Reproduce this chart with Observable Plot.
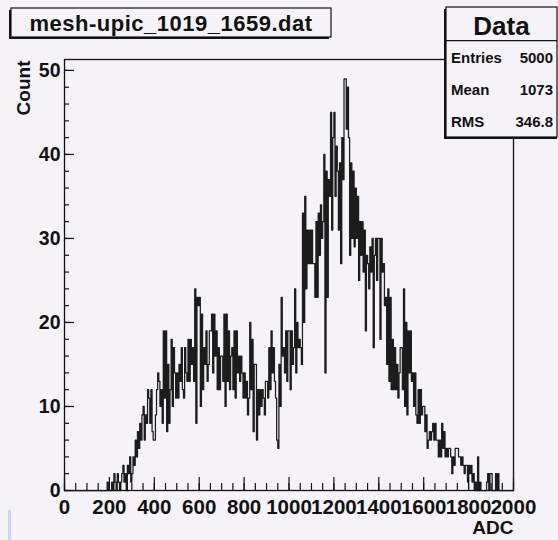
<!DOCTYPE html>
<html><head><meta charset="utf-8">
<script src="https://cdn.jsdelivr.net/npm/d3@7"></script>
<script src="https://cdn.jsdelivr.net/npm/@observablehq/plot@0.6"></script>
<style>
html,body{margin:0;padding:0;background:#f5f3f8;}
#wrap{position:relative;width:558px;height:540px;overflow:hidden;font-family:"Liberation Sans",Arial,sans-serif;}
#wrap svg{display:block;}
#overlay{position:absolute;left:0;top:0;pointer-events:none;}
</style></head><body><div id="wrap"></div>
<script>
// ---- chart text ----
const histTitle = "mesh-upic_1019_1659.dat";
const xLabel = "ADC";
const yLabel = "Count";
const statsTitle = "Data";
const statNames = ["Entries", "Mean", "RMS"];
const statValues = ["5000", "1073", "346.8"];

// ---- axes ----
const xDomain = [0, 2000];
const yDomain = [0, 51.3];
const xTicks = [0, 200, 400, 600, 800, 1000, 1200, 1400, 1600, 1800, 2000];
const xMinorTicks = d3.range(0, 2001, 50);
const yTicks = [0, 10, 20, 30, 40, 50];
const yMinorTicks = d3.range(0, 51, 2);

// ---- histogram: 400 bins of 5 ADC from 0 to 2000 ----
const binWidth = 5;
const counts0to175 = new Array(35).fill(0);
const counts175to1000 = [
  0,0,0,1,0,
  0,0,1,0,2,1,0,2,1,0,
  1,2,3,1,2,0,3,2,4,1,
  2,4,3,6,4,7,5,8,6,9,
  10,6,9,8,12,11,8,12,7,6,
  6,9,12,14,13,10,12,8,19,11,
  19,7,15,8,12,18,10,17,14,11,
  14,11,15,13,17,12,11,17,14,13,
  18,13,18,15,17,13,24,8,23,22,
  23,10,21,12,17,15,19,13,15,19,
  19,21,14,21,16,19,12,17,12,16,
  16,13,21,10,21,13,19,12,16,17,
  12,19,11,19,14,16,13,16,14,11,
  14,11,13,9,11,20,12,18,7,15,
  15,6,12,9,12,10,12,11,9,13,
  13,11,17,12,19,14,17,13,11,6,
  5,15,10,23,16,17,14,19,13,19
];
const counts1000to1500 = [
  19,12,19,15,17,24,14,20,17,18,
  17,15,33,20,35,24,31,27,31,27,
  31,27,27,23,32,23,33,28,34,30,
  32,40,14,38,23,37,35,45,31,42,
  45,35,41,38,31,39,27,42,37,49,
  49,43,48,42,28,39,30,38,29,36,
  30,35,25,32,28,32,26,31,19,28,
  27,24,29,26,30,17,28,30,25,30,
  30,18,30,26,27,22,23,15,24,13,
  23,12,18,12,17,12,15,11,14,17
];
const counts1500to2000 = [
  17,12,24,10,20,9,19,14,19,13,
  14,10,14,9,8,12,8,12,9,10,
  10,7,9,5,6,7,6,7,8,6,
  8,6,6,4,6,4,8,5,7,4,
  5,4,5,5,4,2,4,3,5,5,
  5,4,4,3,4,3,2,3,3,1,
  3,2,3,1,2,0,1,0,4,0,
  1,0,0,0,0,0,1,2,0,2,
  2,0,0,0,2,0,2,0,0,0,
  0,0,0,0,0,0,0,0,0,0
];
const counts = [...counts0to175, ...counts175to1000, ...counts1000to1500, ...counts1500to2000];

const hist = counts.map((c, i) => ({x: i * binWidth, y: c}));
hist.push({x: counts.length * binWidth, y: counts[counts.length - 1]});

// ---- layout ----
const W = 558, H = 540;
const mL = 64, mR = 45, mT = 59, mB = 50;
const frameW = W - mL - mR, frameH = H - mT - mB;
const bg = "#f5f3f8";
const ink = "#111";
const font = "Liberation Sans, Arial, sans-serif";

const chart = Plot.plot({
  width: W, height: H,
  marginLeft: mL, marginRight: mR, marginTop: mT, marginBottom: mB,
  x: {domain: xDomain},
  y: {domain: yDomain},
  style: {background: bg, fontFamily: font, fontWeight: "bold", fontSize: "19px", color: ink, overflow: "visible"},
  marks: [
    Plot.line(hist, {x: "x", y: "y", curve: "step-after", stroke: "#1c1c1c", strokeWidth: 1.25}),
    Plot.tickX(xMinorTicks, {x: d => d, insetTop: frameH - 7, stroke: ink, strokeWidth: 1.2}),
    Plot.tickX(xTicks, {x: d => d, insetTop: frameH - 13, stroke: ink, strokeWidth: 1.2}),
    Plot.tickY(yMinorTicks, {y: d => d, insetRight: frameW - 5, stroke: ink, strokeWidth: 1.2}),
    Plot.tickY(yTicks, {y: d => d, insetRight: frameW - 10, stroke: ink, strokeWidth: 1.2}),
    Plot.axisX(xTicks, {tickSize: 0, tickPadding: 9, fontSize: 20.5, fontWeight: "bold", label: null, tickFormat: d => String(d)}),
    Plot.axisY(yTicks, {tickSize: 0, tickPadding: 4, fontSize: 19.5, fontWeight: "bold", label: null, tickFormat: d => String(d)}),
    Plot.frame({stroke: ink, strokeWidth: 1.3}),
    Plot.text([yLabel], {frameAnchor: "top-left", dx: -41, dy: 1, rotate: -90, textAnchor: "end", lineAnchor: "middle", fontSize: 19, fontWeight: "bold", fill: ink}),
    Plot.text([xLabel], {frameAnchor: "bottom-right", dy: 37, textAnchor: "end", lineAnchor: "middle", fontSize: 19, fontWeight: "bold", fill: ink})
  ]
});
const wrap = document.getElementById("wrap");
wrap.appendChild(chart);

// ---- overlay: title pave and stats box ----
const ov = d3.select(wrap).append("svg").attr("id", "overlay")
  .attr("width", W).attr("height", H)
  .style("font-family", font).style("font-weight", "bold").style("fill", ink);

// small scan artifact at lower left
ov.append("rect").attr("x", 8).attr("y", 510).attr("width", 3).attr("height", 30).attr("fill", "#c9d5ea");

// title box
ov.append("rect").attr("x", 9).attr("y", 10).attr("width", 320).attr("height", 29).attr("fill", ink);
ov.append("rect").attr("x", 11).attr("y", 8).attr("width", 320).attr("height", 29)
  .attr("fill", bg).attr("stroke", ink).attr("stroke-width", 1.2);
ov.append("text").attr("x", 171).attr("y", 31).attr("text-anchor", "middle")
  .attr("font-size", 22).attr("letter-spacing", 0.5).text(histTitle);

// stats box
ov.append("rect").attr("x", 444).attr("y", 9).attr("width", 113).attr("height", 130).attr("fill", ink);
ov.append("rect").attr("x", 446).attr("y", 7).attr("width", 111).attr("height", 130)
  .attr("fill", bg).attr("stroke", ink).attr("stroke-width", 1.2);
ov.append("line").attr("x1", 446).attr("x2", 557).attr("y1", 40.7).attr("y2", 40.7)
  .attr("stroke", ink).attr("stroke-width", 1.2);
ov.append("text").attr("x", 501.5).attr("y", 35).attr("text-anchor", "middle")
  .attr("font-size", 26).text(statsTitle);
const rowBase = [63.3, 95, 126.7];
statNames.forEach((n, i) => {
  ov.append("text").attr("x", 451).attr("y", rowBase[i]).attr("font-size", 15).text(n);
  ov.append("text").attr("x", 553).attr("y", rowBase[i]).attr("text-anchor", "end").attr("font-size", 15).text(statValues[i]);
});
</script></body></html>
